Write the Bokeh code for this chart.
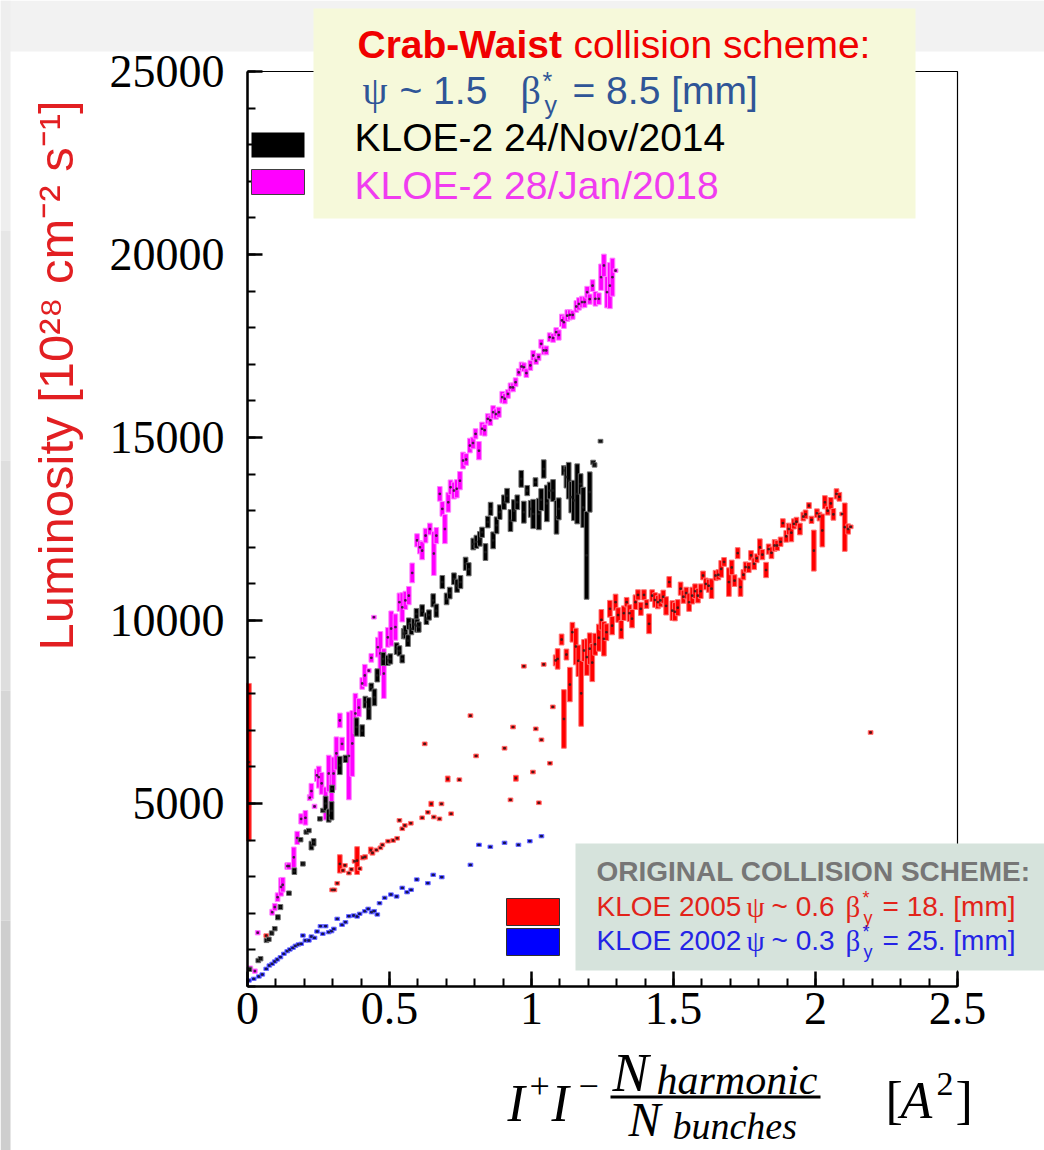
import math
from bokeh.plotting import figure
from bokeh.models import (ColumnDataSource, Range1d, FixedTicker, Label, BoxAnnotation, LinearAxis)
from bokeh.embed import file_html
from bokeh.resources import INLINE

# ---------------- data ----------------
# KLOE-2 28/Jan/2018 (magenta)
m_x = [0.010, 0.026, 0.036, 0.087, 0.096, 0.106, 0.118, 0.124, 0.140, 0.146, 0.163, 0.175, 0.189, 0.204,
       0.219, 0.225, 0.236, 0.244, 0.251, 0.261, 0.275, 0.286, 0.296, 0.303, 0.313, 0.325, 0.333, 0.357,
       0.369, 0.380, 0.392, 0.404, 0.413, 0.427, 0.436, 0.445, 0.459, 0.468, 0.480, 0.494, 0.506, 0.521,
       0.535, 0.545, 0.556, 0.568, 0.580, 0.597, 0.607, 0.615, 0.627, 0.642, 0.656, 0.665, 0.677, 0.686,
       0.695, 0.707, 0.715, 0.727, 0.737, 0.748, 0.759, 0.770, 0.783, 0.794, 0.803, 0.815, 0.826, 0.835,
       0.846, 0.855, 0.865, 0.875, 0.885, 0.897, 0.906, 0.917, 0.926, 0.935, 0.944, 0.955, 0.965, 0.973,
       0.982, 0.996, 1.006, 1.016, 1.025, 1.034, 1.043, 1.052, 1.064, 1.076, 1.087, 1.096, 1.107, 1.114,
       1.126, 1.135, 1.145, 1.158, 1.167, 1.178, 1.187, 1.196, 1.205, 1.215, 1.225, 1.237, 1.245, 1.255,
       1.266, 1.276, 1.285, 1.296]
m_y = [500, 420, 1470, 2030, 2170, 2440, 2720, 2780, 3290, 3290, 3530, 4060, 4580, 4610,
       5160, 5340, 4920, 5770, 5720, 5550, 5000, 5820, 5410, 5820, 6370, 7270, 6630, 6300,
       6640, 7460, 7620, 8280, 8500, 8630, 8980, 10090, 9270, 9100, 8550, 9540, 9780, 9820,
       10500, 10360, 10550, 10680, 11300, 12190, 12000, 11910, 12320, 12500, 11830, 12320, 13460, 13050,
       12500, 13230, 13640, 13550, 13600, 13820, 14370, 14400, 14780, 14850, 15100, 14640, 15240, 15200,
       15510, 15470, 15690, 15640, 15690, 16100, 16060, 16190, 16370, 16370, 16510, 16780, 16940, 16920,
       16760, 16970, 17240, 17100, 17200, 17560, 17380, 17380, 17740, 17720, 17880, 17800, 18200, 18150,
       18330, 18350, 18350, 18580, 18650, 18700, 18700, 18970, 18780, 19150, 18790, 18790, 19380, 19700,
       18970, 19150, 19380, 19560]
m_e = [60, 60, 60, 80, 100, 120, 250, 200, 90, 90, 280, 180, 140, 200,
       80, 210, 60, 170, 300, 300, 450, 500, 400, 450, 450, 200, 180, 1200,
       900, 550, 250, 160, 300, 60, 120, 50, 270, 600, 680, 270, 480, 360,
       250, 400, 250, 250, 270, 180, 180, 250, 200, 160, 600, 220, 200, 200,
       400, 270, 200, 230, 250, 250, 230, 160, 200, 160, 140, 250, 180, 160,
       140, 140, 180, 140, 140, 160, 140, 120, 120, 120, 120, 100, 120, 120,
       120, 140, 140, 100, 100, 120, 120, 120, 120, 120, 120, 140, 170, 170,
       160, 140, 120, 160, 170, 160, 150, 160, 140, 160, 200, 160, 360, 310,
       430, 630, 520, 50]

# KLOE-2 24/Nov/2014 (black)
k_x = [0.007, 0.038, 0.046, 0.067, 0.075, 0.085, 0.096, 0.107, 0.116, 0.146, 0.165, 0.187, 0.195, 0.207,
       0.216, 0.225, 0.233, 0.255, 0.266, 0.275, 0.286, 0.296, 0.298, 0.325, 0.345, 0.384, 0.404, 0.415,
       0.427, 0.436, 0.447, 0.457, 0.478, 0.494, 0.503, 0.525, 0.535, 0.545, 0.550, 0.556, 0.565, 0.568,
       0.577, 0.586, 0.595, 0.597, 0.603, 0.615, 0.630, 0.639, 0.654, 0.665, 0.686, 0.701, 0.712, 0.727,
       0.738, 0.750, 0.768, 0.779, 0.795, 0.806, 0.818, 0.826, 0.838, 0.846, 0.856, 0.865, 0.877, 0.888,
       0.903, 0.914, 0.926, 0.938, 0.950, 0.964, 0.973, 0.985, 0.997, 1.006, 1.014, 1.026, 1.034, 1.043,
       1.054, 1.064, 1.076, 1.088, 1.096, 1.114, 1.123, 1.131, 1.140, 1.149, 1.161, 1.173, 1.182, 1.194,
       1.205, 1.217, 1.222, 1.243]
k_y = [470, 710, 760, 1260, 1290, 1460, 1580, 1890, 2170, 2550, 3150, 4010, 3350, 4220,
       4260, 3850, 3940, 4580, 4810, 5000, 4670, 4800, 5400, 6040, 6220, 7090, 6990, 7770,
       7590, 8180, 7900, 8500, 8950, 8910, 8950, 9230, 9170, 8950, 9640, 9680, 9450, 9910,
       9770, 9890, 10180, 9860, 9820, 10270, 10050, 10150, 10550, 10270, 11050, 10590, 10750, 11140,
       10950, 11050, 11550, 11400, 12090, 12150, 12230, 12410, 11870, 12690, 13050, 12190, 12600, 12960,
       13230, 13410, 12730, 13000, 13230, 13870, 12960, 13550, 13050, 12910, 13780, 12910, 13300, 14140,
       13200, 13550, 13550, 12820, 13050, 14100, 13920, 13820, 13370, 13280, 13460, 13730, 13090, 11780,
       13510, 14320, 14250, 14900]
k_e = [60, 60, 60, 60, 60, 60, 60, 70, 70, 60, 90, 60, 60, 60,
       60, 120, 100, 60, 60, 200, 180, 250, 100, 250, 100, 250, 160, 160,
       300, 110, 230, 180, 180, 140, 140, 160, 140, 110, 140, 180, 160, 160,
       160, 160, 150, 180, 140, 160, 160, 140, 180, 180, 180, 160, 160, 160,
       180, 180, 180, 180, 160, 180, 200, 140, 230, 160, 180, 230, 230, 200,
       200, 200, 300, 300, 200, 230, 300, 140, 230, 400, 120, 430, 300, 250,
       500, 230, 300, 460, 300, 130, 300, 500, 430, 550, 820, 280, 550, 1200,
       550, 60, 60, 50]

# KLOE 2005 (red)
r_x = [0.005, 0.066, 0.298, 0.306, 0.316, 0.325, 0.336, 0.343, 0.357, 0.366, 0.377, 0.386, 0.395, 0.406,
       0.414, 0.434, 0.440, 0.454, 0.468, 0.475, 0.495, 0.513, 0.527, 0.535, 0.545, 0.554, 0.575, 0.615,
       0.624, 0.635, 0.647, 0.656, 0.676, 0.683, 0.705, 0.717, 0.746, 0.785, 0.805, 0.905, 0.926, 0.935,
       0.945, 0.973, 1.005, 1.015, 1.026, 1.035, 1.043, 1.065, 1.075, 1.085, 1.092, 1.106, 1.114, 1.123,
       1.135, 1.144, 1.156, 1.165, 1.175, 1.185, 1.195, 1.205, 1.214, 1.224, 1.237, 1.246, 1.255, 1.264,
       1.276, 1.284, 1.296, 1.305, 1.316, 1.325, 1.335, 1.345, 1.354, 1.366, 1.375, 1.385, 1.396, 1.405,
       1.414, 1.425, 1.435, 1.445, 1.454, 1.464, 1.474, 1.485, 1.496, 1.505, 1.515, 1.525, 1.535, 1.545,
       1.555, 1.566, 1.576, 1.586, 1.596, 1.604, 1.614, 1.624, 1.634, 1.648, 1.658, 1.668, 1.678, 1.695,
       1.705, 1.715, 1.726, 1.736, 1.746, 1.754, 1.765, 1.773, 1.784, 1.793, 1.804, 1.813, 1.826, 1.835,
       1.845, 1.856, 1.865, 1.877, 1.885, 1.897, 1.906, 1.915, 1.924, 1.933, 1.945, 1.957, 1.965, 1.977,
       1.986, 1.994, 2.005, 2.014, 2.024, 2.033, 2.043, 2.054, 2.063, 2.074, 2.084, 2.094, 2.103, 2.115,
       2.124, 2.194]
r_y = [6130, 1390, 2640, 2640, 2820, 3350, 3170, 3310, 3100, 3200, 3420, 3440, 3220, 3520,
       3540, 3720, 3650, 3730, 3790, 3870, 3970, 3990, 4050, 4540, 4310, 4400, 4460, 4610,
       6630, 4760, 4990, 4630, 4580, 4990, 5670, 4720, 5650, 7400, 6300, 6510, 5100, 7090,
       5690, 8750, 5860, 7040, 5020, 6740, 8800, 6100, 7640, 8910, 8950, 9480, 7310, 9070,
       8250, 9680, 9290, 8900, 8010, 9180, 9000, 9230, 8850, 9350, 9530, 10020, 9500, 9680,
       10320, 9860, 10500, 10150, 9750, 10200, 10500, 10200, 10050, 10500, 10700, 10320, 10700, 10450,
       9910, 10680, 10560, 10500, 10550, 10650, 10400, 11050, 10270, 10240, 10350, 10870, 10650, 10750,
       10500, 10680, 10800, 10680, 10800, 11230, 11000, 10950, 10870, 11230, 11250, 11410, 11600, 11050,
       11450, 11090, 11840, 10910, 11250, 11460, 11450, 11780, 11550, 11700, 12000, 11800, 11380, 11950,
       11850, 12050, 12050, 12150, 12660, 12300, 12500, 12400, 12640, 12700, 12500, 12840, 12900, 13140,
       12750, 11910, 12930, 12840, 12460, 13230, 13000, 13200, 12900, 13460, 13380, 12910, 12550, 12500,
       12560, 6940]
r_e = [2150, 50, 50, 50, 50, 250, 50, 50, 50, 50, 50, 380, 50, 60,
       60, 90, 60, 50, 50, 50, 50, 50, 50, 50, 50, 50, 50, 50,
       50, 50, 70, 50, 50, 50, 80, 50, 50, 50, 50, 50, 50, 50,
       80, 50, 50, 50, 50, 50, 50, 50, 50, 150, 280, 150, 800, 150,
       470, 270, 500, 430, 900, 300, 500, 430, 520, 300, 370, 280, 470, 230,
       230, 250, 220, 200, 250, 200, 130, 230, 250, 200, 140, 180, 140, 120,
       270, 160, 200, 180, 180, 180, 250, 150, 270, 250, 220, 180, 180, 160,
       250, 230, 200, 200, 200, 120, 160, 180, 270, 140, 140, 230, 120, 390,
       200, 160, 150, 250, 140, 140, 140, 130, 160, 120, 230, 140, 210, 140,
       160, 160, 140, 130, 120, 160, 160, 250, 140, 120, 160, 120, 120, 80,
       100, 560, 120, 120, 450, 180, 120, 160, 160, 140, 120, 50, 660, 140,
       50, 50]

# KLOE 2002 (blue)
b_x = [0.005, 0.022, 0.040, 0.052, 0.066, 0.077, 0.087, 0.096, 0.105, 0.116, 0.128, 0.140, 0.149, 0.160,
       0.169, 0.179, 0.189, 0.195, 0.204, 0.216, 0.225, 0.236, 0.245, 0.257, 0.265, 0.275, 0.286, 0.296,
       0.304, 0.316, 0.333, 0.345, 0.357, 0.374, 0.386, 0.395, 0.413, 0.425, 0.437, 0.446, 0.457, 0.465,
       0.483, 0.505, 0.525, 0.545, 0.562, 0.576, 0.596, 0.635, 0.654, 0.684, 0.785, 0.815, 0.855, 0.905,
       0.954, 0.994, 1.035]
b_y = [164, 210, 273, 328, 483, 574, 620, 683, 738, 801, 893, 965, 1011, 1057,
       1112, 1148, 1166, 1393, 1257, 1257, 1366, 1330, 1503, 1648, 1439, 1648, 1484, 1512,
       1576, 1849, 1686, 1757, 1921, 1940, 1912, 1986, 2057, 2123, 2030, 2060, 1967, 2276,
       2423, 2513, 2459, 2696, 2576, 2641, 2923, 2823, 3051, 2987, 3324, 3871, 3816, 3926,
       3871, 3970, 4107]
b_e = [45] * len(b_x)

# axis ticks
y_ticks = [5000, 10000, 15000, 20000, 25000]
y_minor = list(range(0, 25001, 1000))
x_ticks = [0, 0.5, 1, 1.5, 2, 2.5]
x_minor = [i / 10 for i in range(0, 26)]

# ---------------- figure ----------------
W, H = 1044, 1150
FL, FR, FT, FB = 247, 957, 71, 986   # pixel edges of the plotting box in the page
KX = 2.5 / (FR - FL)
KY = 25000 / (FB - FT)


def X(px):
    return (px - FL) * KX


def Y(py):
    return (FB - py) * KY


p = figure(width=W, height=H, min_border=0,
           x_range=Range1d(X(0), X(W)), y_range=Range1d(Y(H), Y(0)),
           x_axis_type=None, y_axis_type=None,
           output_backend="svg", toolbar_location=None, tools="")
p.border_fill_color = "white"
p.background_fill_color = "white"
p.outline_line_color = None
p.xgrid.visible = False
p.ygrid.visible = False

yax = LinearAxis(fixed_location=0, bounds=(0, 25000),
                 ticker=FixedTicker(ticks=y_ticks, minor_ticks=y_minor))
xax = LinearAxis(fixed_location=0, bounds=(0, 2.5),
                 ticker=FixedTicker(ticks=x_ticks, minor_ticks=x_minor))
for ax in (xax, yax):
    ax.axis_line_width = 2.5
    ax.axis_line_color = "black"
    ax.major_tick_in = 15
    ax.major_tick_out = 0
    ax.minor_tick_in = 8
    ax.minor_tick_out = 0
    ax.major_tick_line_width = 2.5
    ax.minor_tick_line_width = 2
    ax.major_label_text_font = "Liberation Serif"
    ax.major_label_text_font_size = "46px"
    ax.major_label_text_color = "black"
yax.major_label_standoff = 23
xax.major_label_standoff = 6
xax.major_label_overrides = {0: "0", 0.5: "0.5", 1: "1", 1.5: "1.5", 2: "2", 2.5: "2.5"}
p.add_layout(yax, "left")
p.add_layout(xax, "below")

# page background (grey edges)
p.add_layout(BoxAnnotation(left=X(0), right=X(W), bottom=Y(51), top=Y(0),
                           fill_color="#f2f2f2", fill_alpha=1, line_alpha=0, level="underlay"))
for i, c in enumerate(["#eeeeee", "#e6e6e6", "#dedede", "#d6d6d6", "#cecece"]):
    p.add_layout(BoxAnnotation(left=X(0), right=X(10), bottom=Y(230 * (i + 1)), top=Y(230 * i),
                               fill_color=c, fill_alpha=1, line_alpha=0, level="underlay"))

# plot box outline (top and right edges)
p.add_layout(BoxAnnotation(left=0, right=2.5, bottom=0, top=25000, fill_alpha=0,
                           line_color="black", line_alpha=1, line_width=1.2))


def series(xs, ys, es, color, halo):
    src = ColumnDataSource(dict(x=xs, lo=[y - e for y, e in zip(ys, es)],
                                hi=[y + e for y, e in zip(ys, es)], y=ys))
    p.vbar(x="x", bottom="lo", top="hi", width=0.0165, source=src,
           fill_color=color, line_color=halo, line_width=1)
    p.scatter(x="x", y="y", source=src, size=1.6, marker="square",
              color="#202020", alpha=0.7)


series(r_x, r_y, r_e, "#ff0000", "#ff7070")
series(b_x, b_y, b_e, "#0000ff", "#7070ff")
series(m_x, m_y, m_e, "#ff00ff", "#ff80ff")
series(k_x, k_y, k_e, "#000000", "#707070")


def lab(px, py, text, size, color="black", font="Liberation Sans", style="normal",
        align="left", baseline="middle", angle=0.0):
    p.add_layout(Label(x=X(px), y=Y(py), text=text, text_font=font, text_font_size=f"{size}px",
                       text_font_style=style, text_color=color, text_align=align,
                       text_baseline=baseline, angle=angle))


def box(x0, y0, x1, y1, fill, line=None, lw=1):
    p.add_layout(BoxAnnotation(left=X(x0), right=X(x1), bottom=Y(y1), top=Y(y0),
                               fill_color=fill, fill_alpha=1,
                               line_color=line if line else fill, line_alpha=1 if line else 0,
                               line_width=lw))


# y axis title
lab(55, 375, "Luminosity [10²⁸ cm⁻² s⁻¹]", 49, color="#e21f22", align="center", angle=math.pi / 2)

# x axis title (formula)
SERIF = "Liberation Serif"
lab(507, 1103, "I", 52, font=SERIF, style="italic")
lab(529, 1085, "+", 36, font=SERIF)
lab(551, 1103, "I", 52, font=SERIF, style="italic")
lab(578, 1085, "−", 36, font=SERIF)
lab(612, 1072, "N", 54, font=SERIF, style="italic")
lab(656, 1079, "harmonic", 42, font=SERIF, style="italic")
box(610, 1095, 820, 1098, "black")
lab(628, 1119, "N", 48, font=SERIF, style="italic")
lab(672, 1125, "bunches", 38, font=SERIF, style="italic")
lab(885, 1100, "[", 52, font=SERIF)
lab(900, 1100, "A", 52, font=SERIF, style="italic")
lab(936, 1083, "2", 34, font=SERIF)
lab(955, 1100, "]", 52, font=SERIF)

# crab-waist legend
box(313, 8, 915, 218, "#f6f9da")
box(251, 132, 304, 157, "#000000")
box(251, 169, 304, 194, "#ff00ff", line="#404040")
lab(357, 44, "Crab-Waist", 39, color="#f00000", style="bold")
lab(573, 44, "collision scheme:", 39, color="#f00000")
blue2 = "#2f5597"
lab(362, 90, "ψ", 40, color=blue2, font=SERIF)
lab(399, 90, "~ 1.5", 39, color=blue2)
lab(520, 90, "β", 40, color=blue2, font=SERIF)
lab(542, 80, "*", 25, color=blue2)
lab(544, 104, "y", 25, color=blue2)
lab(572, 90, "= 8.5 [mm]", 39, color=blue2)
lab(354, 137, "KLOE-2 24/Nov/2014", 39, color="black")
lab(354, 185, "KLOE-2 28/Jan/2018", 39, color="#f03cf0")

# original scheme legend
box(575, 843, 1044, 970, "#d6e3dc")
box(506, 898, 559, 925, "#ff0000", line="#303030")
box(506, 928, 559, 955, "#0000ff", line="#303030")
lab(596, 871, "ORIGINAL COLLISION SCHEME:", 28, color="#767676", style="bold")
for yy, col, a, b, c in [(906, "#e2231a", "KLOE 2005", "~ 0.6", "= 18. [mm]"),
                         (940, "#2424e6", "KLOE 2002", "~ 0.3", "= 25. [mm]")]:
    lab(596, yy, a, 28, color=col)
    lab(746, yy, "ψ", 29, color=col, font=SERIF)
    lab(771, yy, b, 28, color=col)
    lab(845, yy, "β", 29, color=col, font=SERIF)
    lab(862, yy - 9, "*", 18, color=col)
    lab(863, yy + 11, "y", 18, color=col)
    lab(882, yy, c, 28, color=col)

open("out.html", "w").write(file_html(p, INLINE))
